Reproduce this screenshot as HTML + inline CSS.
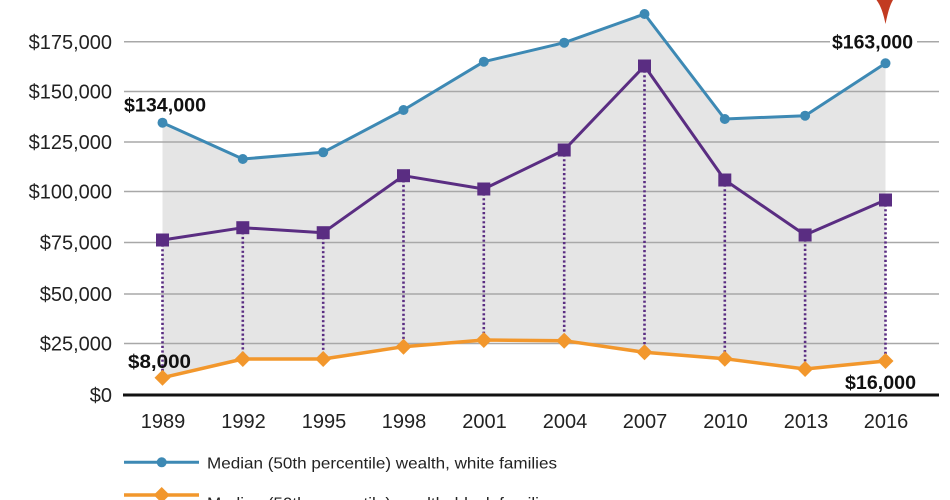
<!DOCTYPE html>
<html>
<head>
<meta charset="utf-8">
<style>
  html, body { margin:0; padding:0; background:#ffffff; }
  body { width:950px; height:500px; overflow:hidden; }
  svg { display:block; }
  text { font-family: "Liberation Sans", "DejaVu Sans", sans-serif; }
</style>
</head>
<body>
<svg width="950" height="500" viewBox="0 0 950 500" xmlns="http://www.w3.org/2000/svg">
  <!-- shaded gap area between white and black lines -->
  <polygon fill="#e5e5e5" points="162.5,122.7 242.8,159 323.2,152.3 403.5,110 483.8,61.7 564.2,42.7 644.5,14 724.8,119 805.1,115.7 885.5,63.3 885.5,361 805.1,369 724.8,358.7 644.5,352.3 564.2,340.7 483.8,340 403.5,346.7 323.2,359 242.8,359 162.5,377.7"/>

  <!-- gridlines -->
  <g stroke="#a8a8a8" stroke-width="1.5">
    <line x1="124" y1="41.7" x2="830" y2="41.7"/>
    <line x1="917" y1="41.7" x2="939" y2="41.7"/>
    <line x1="124" y1="91.5" x2="939" y2="91.5"/>
    <line x1="124" y1="142" x2="939" y2="142"/>
    <line x1="124" y1="191.5" x2="939" y2="191.5"/>
    <line x1="124" y1="242.5" x2="939" y2="242.5"/>
    <line x1="124" y1="294" x2="939" y2="294"/>
    <line x1="124" y1="343.5" x2="939" y2="343.5"/>
  </g>
  <!-- x axis -->
  <line x1="123" y1="395" x2="939" y2="395" stroke="#111" stroke-width="3"/>

  <!-- y tick labels -->
  <g font-size="20" fill="#222" text-anchor="end">
    <text x="112" y="49">$175,000</text>
    <text x="112" y="98.5">$150,000</text>
    <text x="112" y="149">$125,000</text>
    <text x="112" y="198.5">$100,000</text>
    <text x="112" y="249.5">$75,000</text>
    <text x="112" y="301">$50,000</text>
    <text x="112" y="350.5">$25,000</text>
    <text x="112" y="402">$0</text>
  </g>

  <!-- x tick labels -->
  <g font-size="20" fill="#222" text-anchor="middle">
    <text x="163" y="428">1989</text>
    <text x="243.5" y="428">1992</text>
    <text x="324" y="428">1995</text>
    <text x="404" y="428">1998</text>
    <text x="484.5" y="428">2001</text>
    <text x="565" y="428">2004</text>
    <text x="645" y="428">2007</text>
    <text x="725.5" y="428">2010</text>
    <text x="806" y="428">2013</text>
    <text x="886" y="428">2016</text>
  </g>

  <!-- dotted connectors purple -> orange -->
  <g stroke="#5a2d82" stroke-width="2.6" stroke-dasharray="2.2 2.4" fill="none">
    <line x1="162.5" y1="240" x2="162.5" y2="377.7"/>
    <line x1="242.8" y1="227.7" x2="242.8" y2="359"/>
    <line x1="323.2" y1="232.7" x2="323.2" y2="359"/>
    <line x1="403.5" y1="175.7" x2="403.5" y2="346.7"/>
    <line x1="483.8" y1="189" x2="483.8" y2="340"/>
    <line x1="564.2" y1="150" x2="564.2" y2="340.7"/>
    <line x1="644.5" y1="66" x2="644.5" y2="352.3"/>
    <line x1="724.8" y1="180" x2="724.8" y2="358.7"/>
    <line x1="805.1" y1="235" x2="805.1" y2="369"/>
    <line x1="885.5" y1="200" x2="885.5" y2="361"/>
  </g>

  <!-- white families line -->
  <polyline fill="none" stroke="#3d89b4" stroke-width="3" stroke-linejoin="round" points="162.5,122.7 242.8,159 323.2,152.3 403.5,110 483.8,61.7 564.2,42.7 644.5,14 724.8,119 805.1,115.7 885.5,63.3"/>
  <g fill="#3d89b4">
    <circle cx="162.5" cy="122.7" r="5"/>
    <circle cx="242.8" cy="159" r="5"/>
    <circle cx="323.2" cy="152.3" r="5"/>
    <circle cx="403.5" cy="110" r="5"/>
    <circle cx="483.8" cy="61.7" r="5"/>
    <circle cx="564.2" cy="42.7" r="5"/>
    <circle cx="644.5" cy="14" r="5"/>
    <circle cx="724.8" cy="119" r="5"/>
    <circle cx="805.1" cy="115.7" r="5"/>
    <circle cx="885.5" cy="63.3" r="5"/>
  </g>

  <!-- purple gap line -->
  <polyline fill="none" stroke="#5a2d82" stroke-width="3" stroke-linejoin="round" points="162.5,240 242.8,227.7 323.2,232.7 403.5,175.7 483.8,189 564.2,150 644.5,66 724.8,180 805.1,235 885.5,200"/>
  <g fill="#5a2d82">
    <rect x="156" y="233.5" width="13" height="13"/>
    <rect x="236.3" y="221.2" width="13" height="13"/>
    <rect x="316.7" y="226.2" width="13" height="13"/>
    <rect x="397" y="169.2" width="13" height="13"/>
    <rect x="477.3" y="182.5" width="13" height="13"/>
    <rect x="557.7" y="143.5" width="13" height="13"/>
    <rect x="638" y="59.5" width="13" height="13"/>
    <rect x="718.3" y="173.5" width="13" height="13"/>
    <rect x="798.6" y="228.5" width="13" height="13"/>
    <rect x="879" y="193.5" width="13" height="13"/>
  </g>

  <!-- black families line -->
  <polyline fill="none" stroke="#f2972c" stroke-width="3.5" stroke-linejoin="round" points="162.5,377.7 242.8,359 323.2,359 403.5,346.7 483.8,340 564.2,340.7 644.5,352.3 724.8,358.7 805.1,369 885.5,361"/>
  <g fill="#f2972c">
    <polygon points="162.5,369.7 170.5,377.7 162.5,385.7 154.5,377.7"/>
    <polygon points="242.8,351 250.8,359 242.8,367 234.8,359"/>
    <polygon points="323.2,351 331.2,359 323.2,367 315.2,359"/>
    <polygon points="403.5,338.7 411.5,346.7 403.5,354.7 395.5,346.7"/>
    <polygon points="483.8,332 491.8,340 483.8,348 475.8,340"/>
    <polygon points="564.2,332.7 572.2,340.7 564.2,348.7 556.2,340.7"/>
    <polygon points="644.5,344.3 652.5,352.3 644.5,360.3 636.5,352.3"/>
    <polygon points="724.8,350.7 732.8,358.7 724.8,366.7 716.8,358.7"/>
    <polygon points="805.1,361 813.1,369 805.1,377 797.1,369"/>
    <polygon points="885.5,353 893.5,361 885.5,369 877.5,361"/>
  </g>

  <!-- red pin at top -->
  <path d="M876.5,0 C881,6 883.5,14 885.5,24 C887.5,14 889.5,6 893,0 Z" fill="#c23b22"/>

  <!-- value labels -->
  <g font-size="19" font-weight="bold" fill="#111">
    <text x="124" y="111.5" textLength="82" lengthAdjust="spacingAndGlyphs">$134,000</text>
    <text x="832" y="48.5" textLength="81" lengthAdjust="spacingAndGlyphs">$163,000</text>
    <text x="128" y="368" textLength="63" lengthAdjust="spacingAndGlyphs">$8,000</text>
    <text x="845" y="389" textLength="71" lengthAdjust="spacingAndGlyphs">$16,000</text>
  </g>

  <!-- legend -->
  <line x1="124" y1="462.3" x2="199" y2="462.3" stroke="#3d89b4" stroke-width="3"/>
  <circle cx="161.7" cy="462.3" r="5" fill="#3d89b4"/>
  <text x="207" y="468.5" font-size="16" fill="#222" textLength="350" lengthAdjust="spacingAndGlyphs">Median (50th percentile) wealth, white families</text>

  <line x1="124" y1="495" x2="199" y2="495" stroke="#f2972c" stroke-width="3.5"/>
  <polygon points="161.7,487 169.7,495 161.7,503 153.7,495" fill="#f2972c"/>
  <text x="207" y="508.5" font-size="16" fill="#222" textLength="350" lengthAdjust="spacingAndGlyphs">Median (50th percentile) wealth, black families</text>
</svg>
</body>
</html>
